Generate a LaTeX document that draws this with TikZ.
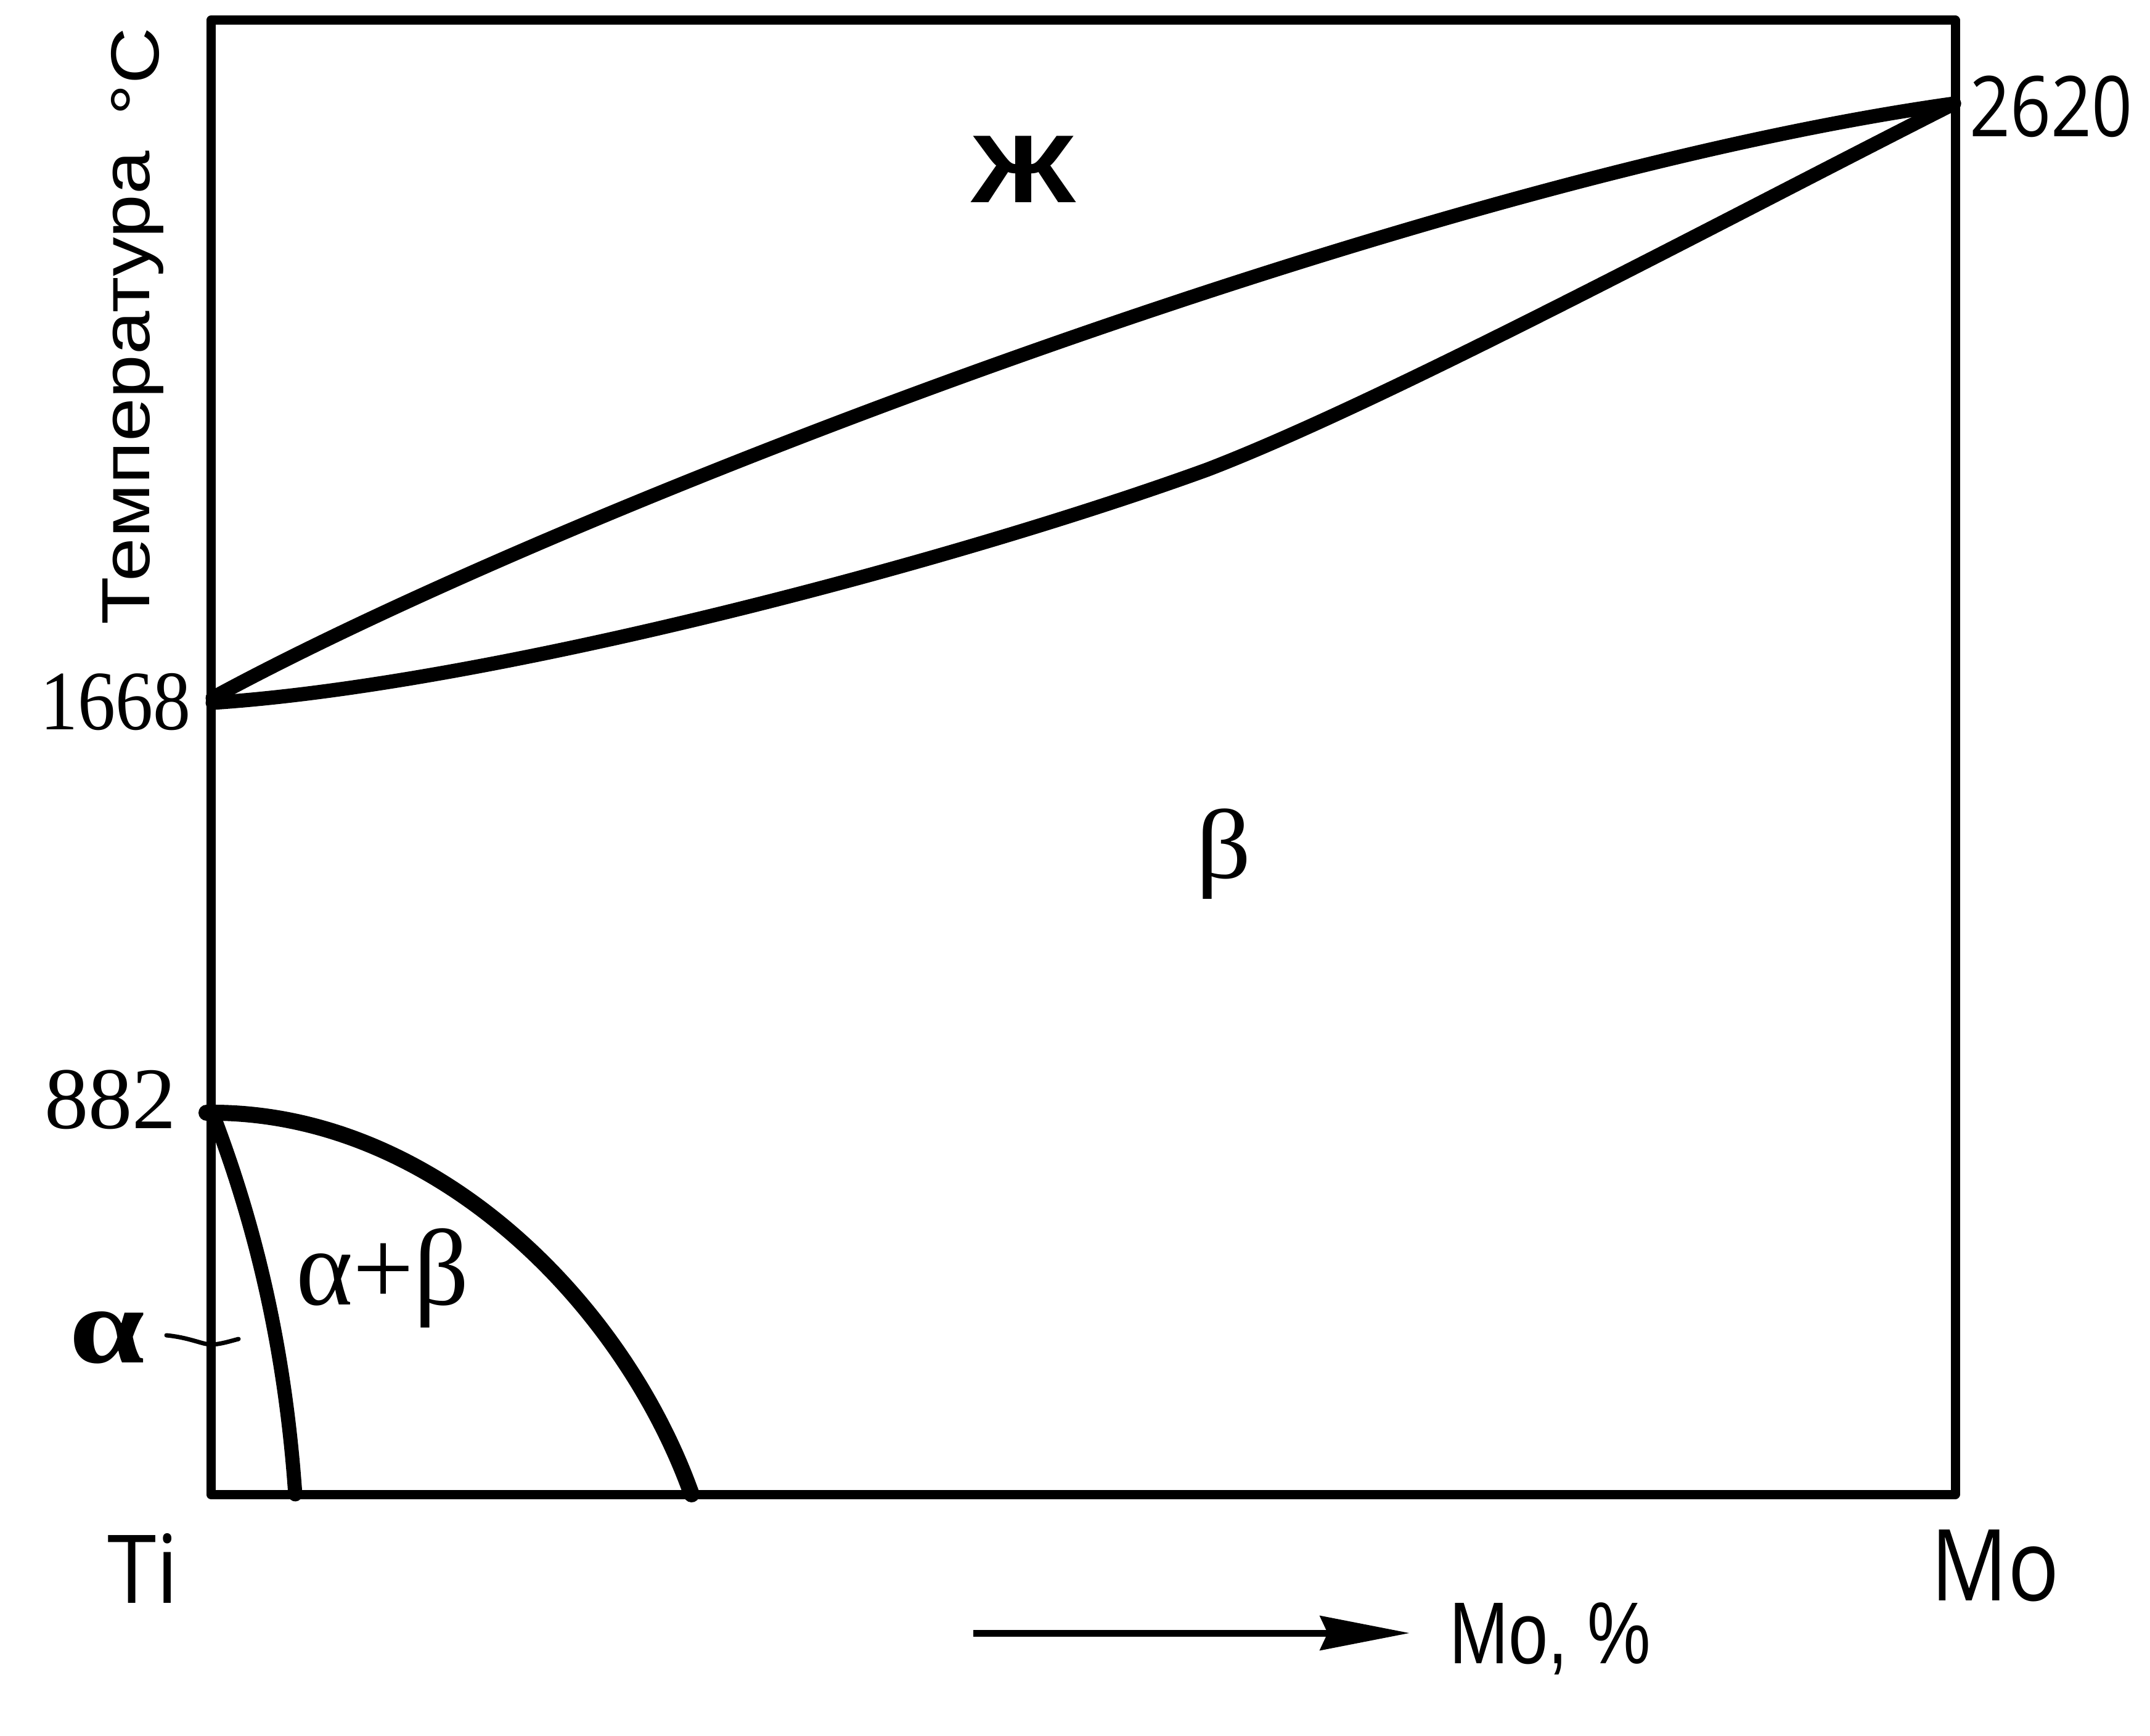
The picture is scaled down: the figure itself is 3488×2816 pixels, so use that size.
\documentclass[tikz,border=0pt]{standalone}
\usepackage{fontspec}
\setmainfont{Liberation Serif}
\newfontfamily\sansL{Liberation Sans}
\newfontfamily\sansO{Open Sans}
\usetikzlibrary{arrows.meta}
\begin{document}
\begin{tikzpicture}[x=0.01cm,y=-0.01cm,
  frame/.style={line width=0.15cm, line cap=round, line join=round},
  phase/.style={line width=0.23cm, line cap=round, line join=round},
  transus/.style={line width=0.26cm, line cap=round, line join=round},
  lbl/.style={inner sep=0pt, outer sep=0pt}]
\useasboundingbox (0,0) rectangle (3488,2816);
% frame
\coordinate (TL) at (342,33);
\coordinate (TR) at (3172,33);
\coordinate (BR) at (3172,2424);
\coordinate (BL) at (342,2424);
\draw[frame] (TL) -- (TR) -- (BR) -- (BL) -- cycle;
% key points
\coordinate (pTiL) at (345,1132);
\coordinate (pTiS) at (345,1140);
\coordinate (pMo) at (3170,168);
\coordinate (pKink) at (1958,762);
\coordinate (p882) at (335,1805);
\coordinate (pA) at (345,1806);
\coordinate (bA) at (479,2424);
\coordinate (bB) at (1122,2424);
% liquidus
\draw[phase] (pTiL) .. controls (900,830) and (2300,290) .. (pMo);
% solidus
\draw[phase] (pTiS) .. controls (800,1110) and (1550,910) .. (pKink)
  .. controls (2250,650) and (2800,355) .. (pMo);
% beta transus
\draw[transus] (p882) .. controls (700,1800) and (1010,2110) .. (bB);
% alpha solvus
\draw[phase] (pA) .. controls (400,1950) and (460,2150) .. (bA);
% alpha leader
\coordinate (la) at (270,2166);
\coordinate (lb) at (387,2172);
\draw[line width=0.07cm, line cap=round] (la) .. controls (310,2170) and (330,2182) .. (345,2181) .. controls (360,2180) and (375,2175) .. (lb);
% axis arrow
\coordinate (ar1) at (1579,2649);
\coordinate (ar2) at (2287,2649);
\draw[line width=0.11cm, -{Stealth[length=1.45cm,width=0.55cm,inset=0.12cm]}] (ar1) -- (ar2);
% labels
\node[lbl, anchor=base east] (t1668) at (310,1183) {\scalebox{0.89}[1]{\fontsize{39pt}{39pt}\selectfont 1668}};
\node[lbl, anchor=base east] (t882) at (286,1830) {\fontsize{40.5pt}{40.5pt}\selectfont 882};
\node[lbl, anchor=base west] (t2620) at (3195,222) {\scalebox{0.85}[1]{\fontsize{38.7pt}{38.7pt}\sansO 2620}};
\node[lbl, anchor=base west] (tTi) at (174,2600) {\scalebox{0.93}[1]{\fontsize{43.8pt}{43.8pt}\sansO Ti}};
\node[lbl, anchor=base west] (tMo) at (3132,2596) {\scalebox{0.86}[1]{\fontsize{45.8pt}{45.8pt}\sansO Mo}};
\node[lbl, anchor=base west] (tMoP) at (2351,2698) {\scalebox{0.81}[1]{\fontsize{40.5pt}{40.5pt}\sansL Mo, \%}};
\node[lbl, anchor=base west] (tL) at (1575,329) {\scalebox{1.2}[1]{\fontsize{44.5pt}{44.5pt}\sansL\bfseries Ж}};
\node[lbl] (tB) at (1985,1385) {\scalebox{1.1}[1]{\fontsize{45.5pt}{45.5pt}\selectfont β}};
\node[lbl, anchor=base west] (tAB) at (480,2116) {\fontsize{50pt}{50pt}\selectfont α+β};
\node[lbl, anchor=base west] (tA) at (112,2210) {\scalebox{1.25}[1]{\fontsize{50pt}{50pt}\selectfont\bfseries α}};
\node[lbl, rotate=90, anchor=base west] (tT) at (242,1014) {\scalebox{1.15}[1]{\fontsize{31.4pt}{31.4pt}\sansL Температура\hspace{0.5cm}\raisebox{-0.15cm}{°C}}};
\end{tikzpicture}
\end{document}
